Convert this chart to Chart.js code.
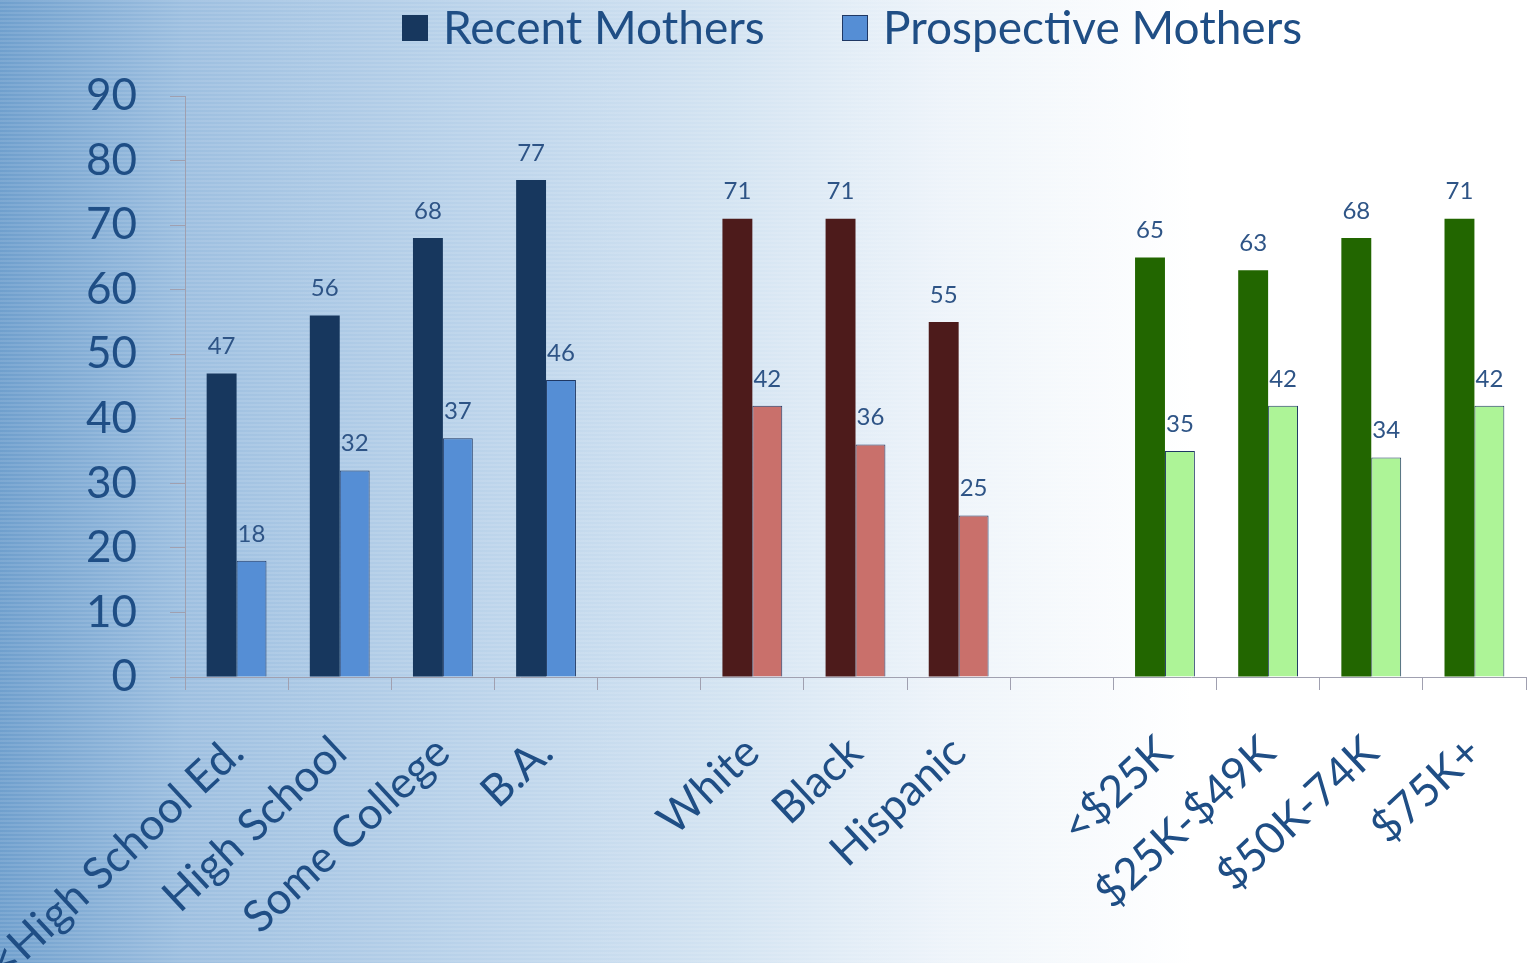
<!DOCTYPE html>
<html>
<head>
<meta charset="utf-8">
<script src="https://cdn.jsdelivr.net/npm/chart.js@4"></script>
<style>
  html, body { margin: 0; padding: 0; }
  body {
    width: 1529px; height: 963px; overflow: hidden;
    background:
      repeating-linear-gradient(to bottom, rgba(255,255,255,0.10) 0px, rgba(255,255,255,0.10) 2px, rgba(0,0,0,0) 2px, rgba(0,0,0,0) 4px),
      linear-gradient(to right, #6f9fcd 0%, #9dbfe0 12%, #b9d2ea 30%, #d4e4f2 48%, #eef4fa 62%, #ffffff 78%, #ffffff 100%);
  }
  #wrap { position: absolute; left: 0; top: 0; width: 1529px; height: 963px; }
</style>
</head>
<body>
<div id="wrap"><canvas id="barChart"></canvas></div>
<script>
  // categories (empty strings are the gaps between groups)
  const categories = ["<High School Ed.", "High School", "Some College", "B.A.", "",
    "White", "Black", "Hispanic", "",
    "<$25K", "$25K-$49K", "$50K-74K", "$75K+"];
  const recentMothers = [47, 56, 68, 77, null, 71, 71, 55, null, 65, 63, 68, 71];
  const prospectiveMothers = [18, 32, 37, 46, null, 42, 36, 25, null, 35, 42, 34, 42];
  const yTicks = [0, 10, 20, 30, 40, 50, 60, 70, 80, 90];
  const seriesNames = ["Recent Mothers", "Prospective Mothers"];

  // colours per group: education, race, income
  const recentColors = ["#17375e", "#17375e", "#17375e", "#17375e", "#17375e",
    "#4d1b1b", "#4d1b1b", "#4d1b1b", "#4d1b1b",
    "#226600", "#226600", "#226600", "#226600"];
  const prospectiveColors = ["#558ed5", "#558ed5", "#558ed5", "#558ed5", "#558ed5",
    "#c9706b", "#c9706b", "#c9706b", "#c9706b",
    "#adf497", "#adf497", "#adf497", "#adf497"];

  const textBlue = "#1f4e85";

  // small labels above each bar
  const valueLabels = {
    id: "valueLabels",
    afterDatasetsDraw(chart) {
      const ctx = chart.ctx;
      ctx.save();
      ctx.font = "24px Lato";
      ctx.fillStyle = "#2e5486";
      ctx.textAlign = "center";
      ctx.textBaseline = "bottom";
      chart.data.datasets.forEach((ds, i) => {
        chart.getDatasetMeta(i).data.forEach((bar, j) => {
          if (ds.data[j] == null) return;
          ctx.fillText(ds.data[j], bar.x, bar.y - 15);
        });
      });
      ctx.restore();
    }
  };

  // legend at the top, spaced like the original
  const topLegend = {
    id: "topLegend",
    afterDraw(chart) {
      const ctx = chart.ctx;
      const boxes = [
        { x: 402, fill: "#17375e", stroke: null },
        { x: 842, fill: "#558ed5", stroke: "#1f3864" },
      ];
      ctx.save();
      ctx.font = "46px Lato";
      ctx.textBaseline = "middle";
      ctx.textAlign = "left";
      boxes.forEach((b, i) => {
        ctx.fillStyle = b.fill;
        ctx.fillRect(b.x, 15, 26, 26);
        if (b.stroke) {
          ctx.strokeStyle = b.stroke;
          ctx.lineWidth = 1;
          ctx.strokeRect(b.x + 0.5, 15.5, 25, 25);
        }
        ctx.fillStyle = textBlue;
        ctx.fillText(seriesNames[i], b.x + 41, 29);
      });
      ctx.restore();
    }
  };

  const ctx = document.getElementById("barChart");
  new Chart(ctx, {
    type: "bar",
    data: {
      labels: categories,
      datasets: [
        {
          label: seriesNames[0],
          data: recentMothers,
          backgroundColor: recentColors,
          borderWidth: 0,
          categoryPercentage: 0.58,
          barPercentage: 1.0,
        },
        {
          label: seriesNames[1],
          data: prospectiveMothers,
          backgroundColor: prospectiveColors,
          borderColor: "#1f3864",
          borderWidth: 1,
          categoryPercentage: 0.58,
          barPercentage: 1.0,
        },
      ],
    },
    options: {
      responsive: true,
      maintainAspectRatio: false,
      animation: false,
      layout: { padding: { top: 96, right: 3, left: 0, bottom: 0 } },
      plugins: {
        tooltip: { enabled: false },
        legend: { display: false },
      },
      scales: {
        x: {
          grid: { display: true, drawOnChartArea: false, drawTicks: true, tickLength: 13, color: "#a0a0b0", offset: true },
          border: { display: true, color: "#a0a0b0", width: 1 },
          ticks: {
            font: { family: "Lato", size: 44 },
            color: textBlue,
            minRotation: 43,
            maxRotation: 43,
            autoSkip: false,
            padding: 36,
          },
          afterFit: (scale) => {
            scale.height = 286;
            // rotated labels may run off the left edge, as in the original
            scale.paddingLeft = 0;
            scale.paddingRight = 0;
          },
        },
        y: {
          min: 0,
          max: 90,
          afterBuildTicks: (scale) => { scale.ticks = yTicks.map(v => ({ value: v })); },
          grid: { display: true, drawOnChartArea: false, drawTicks: true, tickLength: 15, color: "#a0a0b0" },
          border: { display: true, color: "#a0a0b0", width: 1 },
          ticks: {
            font: { family: "Lato", size: 44 },
            color: textBlue,
            padding: 33,
          },
          afterFit: (scale) => { scale.width = 185; },
        },
      },
    },
    plugins: [valueLabels, topLegend],
  });
</script>
</body>
</html>
